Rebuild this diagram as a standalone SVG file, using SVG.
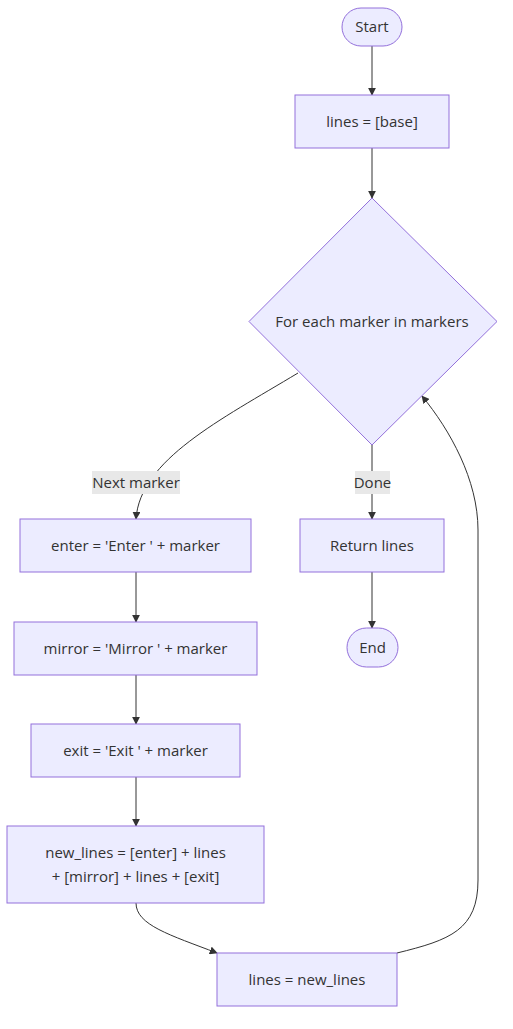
<svg xmlns="http://www.w3.org/2000/svg" width="513" height="1029" viewBox="0 0 513 1029">
<style>
.n{fill:#ECECFF;stroke:#9370DB;stroke-width:1}
.t{font-family:"Open Sans","DejaVu Sans",sans-serif;font-size:15px;fill:#333;text-anchor:middle;dominant-baseline:central}
.e{fill:none;stroke:#333;stroke-width:1}
.lb{fill:#E8E8E8;stroke:none}
</style>
<defs>
<marker id="a" viewBox="0 0 10 10" refX="9" refY="5" markerWidth="8" markerHeight="8" orient="auto" markerUnits="userSpaceOnUse"><path d="M0,0L10,5L0,10z" fill="#333"/></marker>
</defs>
<rect width="513" height="1029" fill="#fff"/>
<g id="edges">
<path class="e" d="M372,46V95" marker-end="url(#a)"/>
<path class="e" d="M372,148V198" marker-end="url(#a)"/>
<path class="e" d="M298,373C220,420 140,460 136,519" marker-end="url(#a)"/>
<path class="e" d="M372,445V519" marker-end="url(#a)"/>
<path class="e" d="M372,572V628" marker-end="url(#a)"/>
<path class="e" d="M136,572V622" marker-end="url(#a)"/>
<path class="e" d="M136,675V724" marker-end="url(#a)"/>
<path class="e" d="M136,777V826" marker-end="url(#a)"/>
<path class="e" d="M136,903C136,925 170,935 217,953" marker-end="url(#a)"/>
<path class="e" d="M397,953C450,940 478,930 478,880V530C478,480 450,430 422,396" marker-end="url(#a)"/>
</g>
<g id="lbl-next"><rect class="lb" x="92" y="471" width="88" height="23"/><text class="t" x="136" y="481.5">Next marker</text></g>
<g id="lbl-done"><rect class="lb" x="355" y="471" width="35" height="23"/><text class="t" x="372.5" y="481.5">Done</text></g>
<g id="start"><rect class="n" x="342" y="8" width="60" height="38" rx="19"/><text class="t" x="372" y="26">Start</text></g>
<g id="init"><rect class="n" x="295" y="95" width="154" height="53"/><text class="t" x="372" y="120.5">lines = [base]</text></g>
<g id="loop"><path class="n" d="M372,198L497,321.5L372,445L249,321.5Z"/><text class="t" x="372" y="320.5">For each marker in markers</text></g>
<g id="enter"><rect class="n" x="20" y="519" width="231" height="53"/><text class="t" x="135.5" y="544.5">enter = 'Enter ' + marker</text></g>
<g id="ret"><rect class="n" x="300" y="519" width="144" height="53"/><text class="t" x="372" y="544.5">Return lines</text></g>
<g id="end"><rect class="n" x="347" y="628" width="51" height="39" rx="19.5"/><text class="t" x="372.5" y="646.5">End</text></g>
<g id="mirror"><rect class="n" x="14" y="622" width="243" height="53"/><text class="t" x="135.5" y="647.5">mirror = 'Mirror ' + marker</text></g>
<g id="exit"><rect class="n" x="31" y="724" width="209" height="53"/><text class="t" x="135.5" y="749.5">exit = 'Exit ' + marker</text></g>
<g id="newlines"><rect class="n" x="7" y="826" width="257" height="77"/><text class="t" x="135.5" y="851.5">new_lines = [enter] + lines</text><text class="t" x="135.5" y="875.5">+ [mirror] + lines + [exit]</text></g>
<g id="assign"><rect class="n" x="217" y="953" width="180" height="53"/><text class="t" x="307" y="978.5">lines = new_lines</text></g>
</svg>
